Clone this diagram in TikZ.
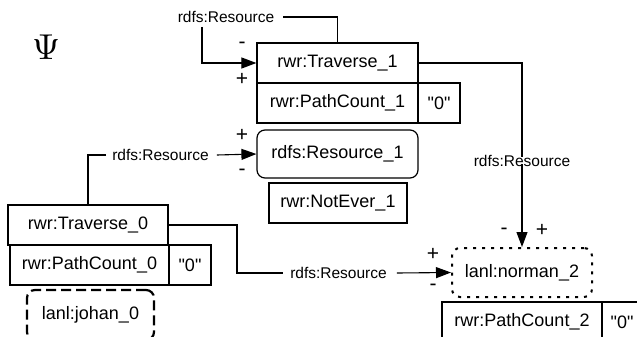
\documentclass[tikz,border=0pt]{standalone}
\usepackage[no-math]{fontspec}
\setmainfont{Liberation Sans}[Ligatures=TeXOff]
\usetikzlibrary{arrows.meta}
\begin{document}
\begin{tikzpicture}[x=1pt,y=-1pt,
  box/.style={draw,line width=1.2pt,minimum height=40pt,inner sep=0pt,font=\fontsize{18}{20}\selectfont},
  lbl/.style={font=\fontsize{15.5}{17}\selectfont,inner sep=0pt},
  pm/.style={font=\fontsize{21}{23}\selectfont,inner sep=0pt},
  conn/.style={line width=1.1pt},
  arr/.style={conn,-{Triangle[length=15pt,width=11pt]}}]
\useasboundingbox (0,0) rectangle (637,337);
\node[inner sep=0pt] (psi) at (46,47) {\scalebox{3.6}{$\Psi$}};
% boxes
\node[box,minimum width=161pt] (t1) at (337.5,63) {rwr:Traverse\_1};
\node[box,minimum width=161pt] (pc1) at (337.5,103) {rwr:PathCount\_1};
\node[box,minimum width=42pt] (z1) at (439,103) {"0"};
\node[box,rounded corners=8pt,minimum width=161pt,minimum height=48pt] (r1) at (337.5,154) {rdfs:Resource\_1};
\node[box,minimum width=138pt] (ne1) at (338,203) {rwr:NotEver\_1};
\node[box,minimum width=160pt] (t0) at (88,225) {rwr:Traverse\_0};
\node[box,minimum width=159pt] (pc0) at (89.5,265) {rwr:PathCount\_0};
\node[box,minimum width=42pt] (z0) at (190,265) {"0"};
\node[box,line width=2.2pt,dash pattern=on 10pt off 5pt,rounded corners=8pt,minimum width=127pt,minimum height=50pt] (j0) at (90.5,315) {lanl:johan\_0};
\node[box,line width=2pt,dash pattern=on 3pt off 6pt,rounded corners=8pt,minimum width=140pt,minimum height=49pt] (n2) at (522,272.5) {lanl:norman\_2};
\node[box,minimum width=160pt] (pc2) at (522,322) {rwr:PathCount\_2};
\node[box,minimum width=40pt] (z2) at (622,322) {"0"};
% labels
\node[lbl] (rs0) at (226,17) {rdfs:Resource};
\node[lbl] (rs1) at (160.5,155) {rdfs:Resource};
\node[lbl] (rs2) at (522,161) {rdfs:Resource};
\node[lbl] (rs3) at (338.5,273) {rdfs:Resource};
% plus/minus
\node[pm] (m1) at (242,45) {-};
\node[pm] (p1) at (242,79) {+};
\node[pm] (p2) at (242,135) {+};
\node[pm] (m2) at (242,172) {-};
\node[pm] (m3) at (504,231) {-};
\node[pm] (p3) at (542,230) {+};
\node[pm] (p4) at (433,254) {+};
\node[pm] (m4) at (433,287) {-};
% connectors
\coordinate (c0) at (202,27);
\draw[conn] ([xshift=9pt]rs0.east) -| (t1.north);
\draw[arr] (c0) |- (t1.west);
\draw[conn] (t1.east) -| ([yshift=-2pt]rs2.north);
\draw[arr] ([yshift=3pt]rs2.south) -- (n2.north);
\draw[conn] ([xshift=-6pt]rs1.west) -| (t0.north);
\draw[arr] ([xshift=8pt]rs1.east) -- (r1.west);
\coordinate (k) at (237,273);
\draw[conn] (t0.east) -| (k) -- ([xshift=-7pt]rs3.west);
\draw[arr] ([xshift=10pt]rs3.east) -- (n2.west);
\end{tikzpicture}
\end{document}
